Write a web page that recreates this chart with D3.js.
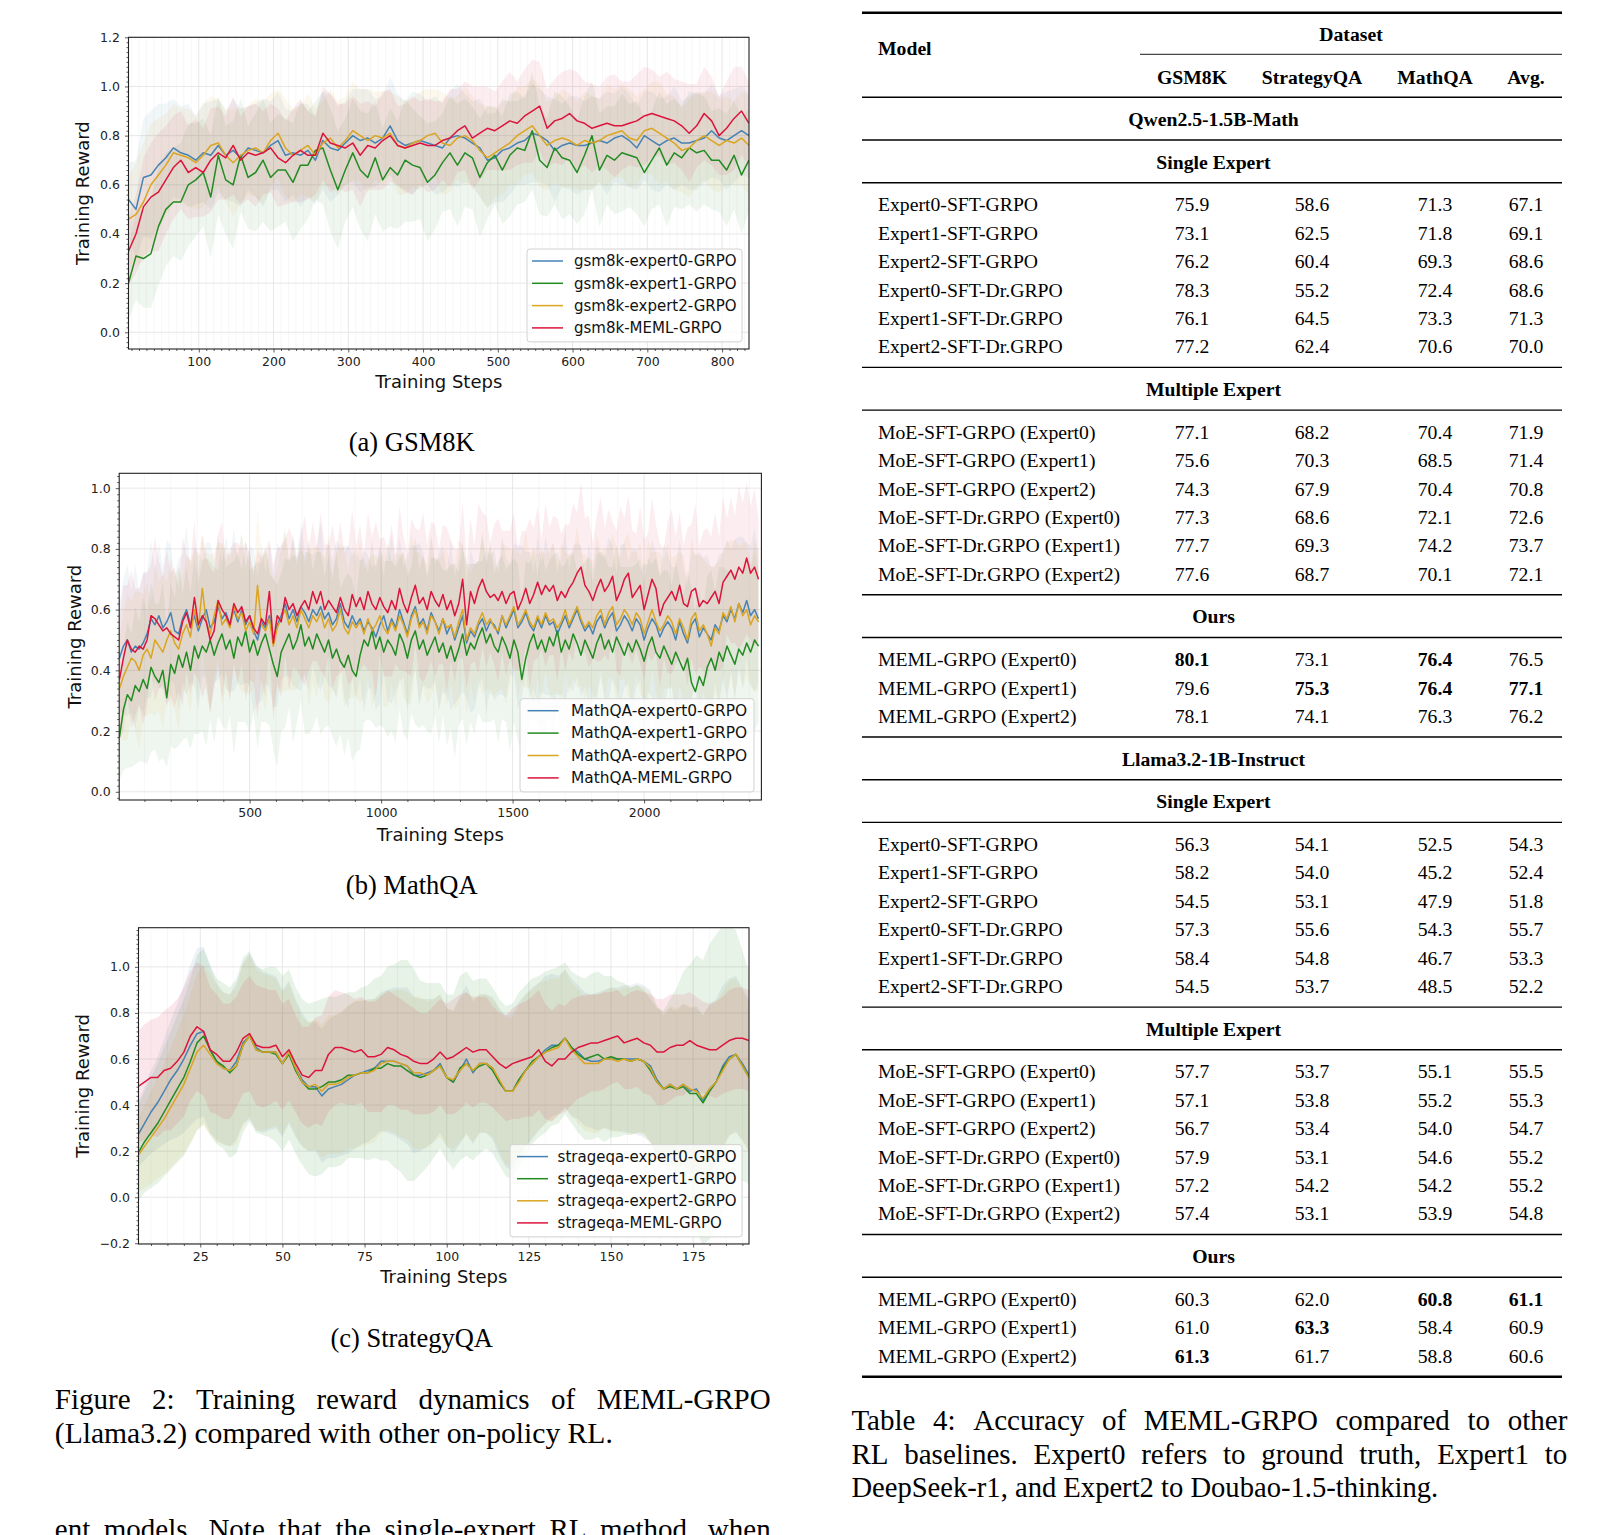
<!DOCTYPE html>
<html><head><meta charset="utf-8"><title>MEML-GRPO training reward</title>
<script src="https://cdn.jsdelivr.net/npm/d3@7/dist/d3.min.js"></script>
<style>html,body{margin:0;padding:0;background:#fff;}svg{display:block;}</style>
</head><body>
<svg id="fig" width="1622" height="1535" xmlns="http://www.w3.org/2000/svg"></svg>
<script>
// ================= DATA (training rewards stored in hundredths) =================
const gsmLabels = ["gsm8k-expert0-GRPO", "gsm8k-expert1-GRPO", "gsm8k-expert2-GRPO", "gsm8k-MEML-GRPO"];
const mathqaLabels = ["MathQA-expert0-GRPO", "MathQA-expert1-GRPO", "MathQA-expert2-GRPO", "MathQA-MEML-GRPO"];
const strategyLabels = ["strageqa-expert0-GRPO", "strageqa-expert1-GRPO", "strageqa-expert2-GRPO", "strageqa-MEML-GRPO"];

const gsmXTicks = [100, 200, 300, 400, 500, 600, 700, 800];
const gsmYTicks = [0, 20, 40, 60, 80, 100, 120];
const mathqaXTicks = [500, 1000, 1500, 2000];
const mathqaYTicks = [0, 20, 40, 60, 80, 100];
const strategyXTicks = [25, 50, 75, 100, 125, 150, 175];
const strategyYTicks = [-20, 0, 20, 40, 60, 80, 100];

// GSM8K: one point every 10 steps from step 6
const gsmStepStart = 6, gsmStepEvery = 10;
const gsmExpert0 = [54,50,63,64,68,71,75,73,72,70, 73,72,76,72,74,71,75,74,73,76, 78,72,73,72,74,70,78,75,74,77, 80,78,79,77,79,84,78,76,77,78, 77,76,75,79,80,79,77,75,70,71, 74,75,77,78,81,80,78,74,76,77, 76,76,77,78,77,79,80,78,75,80, 78,76,78,79,77,77,78,79,82,79, 78,80,82,80];
const gsmExpert1 = [20,31,30,32,43,50,53,53,60,62, 65,55,72,62,60,72,63,65,70,63, 66,66,61,68,68,74,75,66,58,66, 73,66,63,71,62,67,64,70,68,67, 61,64,69,73,68,73,71,63,69,72, 66,72,75,74,82,70,67,75,71,70, 65,72,80,66,72,70,73,72,71,65, 70,75,68,73,71,75,73,74,70,70, 66,72,64,70];
const gsmExpert2 = [46,48,53,60,64,68,73,72,71,69, 72,76,77,72,69,72,74,75,73,78, 81,75,72,74,76,72,77,79,75,78, 82,80,78,80,79,81,76,75,77,78, 80,81,77,76,79,80,78,74,71,73, 75,77,80,82,84,80,76,78,79,78, 76,78,77,78,80,81,82,79,78,82, 83,81,79,77,74,75,78,80,78,76, 78,77,79,76];
const gsmMeml = [33,40,51,55,57,62,67,70,65,67, 65,70,73,71,76,70,73,72,73,75, 71,69,72,74,72,72,81,77,76,75, 77,72,76,75,78,80,76,75,76,77, 76,76,78,79,82,84,79,81,83,82, 84,86,85,88,90,92,83,86,87,89, 86,85,83,84,85,84,84,85,86,88, 89,88,87,86,84,81,84,89,86,80, 83,87,90,85];
const gsmExpert0Std = [15,20,24,26,25,22,20,19,21,18, 20,22,19,18,21,20,17,19,22,18, 20,19,17,21,19,18,20,22,18,17, 19,21,20,18,17,20,19,18,21,19, 17,20,18,19,21,18,17,20,19,18, 21,19,17,18,20,19,18,21,17,19, 20,18,19,17,21,18,20,19,17,18, 20,19,18,21,17,19,20,18,19,17, 20,19,18,17];
const gsmExpert1Std = [15,18,20,22,24,23,22,24,25,23, 22,25,24,22,26,23,21,24,25,22, 23,21,24,26,22,20,23,25,24,21, 22,24,26,23,21,24,22,25,23,21, 24,22,20,23,25,22,21,24,23,20, 22,25,23,21,24,22,20,23,25,22, 21,24,22,23,20,22,24,21,23,22, 20,23,25,22,21,23,24,22,20,21, 23,22,24,21];
const gsmExpert2Std = [18,21,24,25,23,21,20,19,20,19, 21,20,18,19,22,19,18,20,21,19, 18,20,19,18,21,19,17,20,19,18, 20,19,21,18,19,17,20,19,18,20, 19,18,21,19,17,20,18,19,21,18, 19,17,20,18,19,21,18,17,20,19, 18,20,19,17,21,18,19,20,18,17, 19,21,18,19,17,20,19,18,20,19, 18,17,19,20];
const gsmMemlStd = [14,16,20,22,24,22,21,20,19,20, 18,21,19,17,20,18,19,21,17,18, 20,17,19,21,18,16,19,20,17,18, 19,21,18,17,20,19,16,18,20,17, 19,18,16,20,17,18,21,19,17,16, 18,20,17,19,21,18,16,17,19,18, 20,17,18,16,19,21,18,17,19,20, 18,16,19,17,18,20,17,19,18,16, 19,21,18,17];

// MathQA: one point every 15 steps from step 5
const mathqaStepStart = 5, mathqaStepEvery = 15;
const mathqaExpert0 = [44,48,50,46,48,47,49,52,57,55, 58,54,56,59,53,52,57,60,55,58, 53,57,60,54,56,61,57,59,55,60, 56,60,55,58,53,50,56,54,58,50, 55,58,62,57,60,56,61,59,56,60, 58,61,57,59,55,57,62,56,54,58, 55,57,53,56,54,51,55,58,53,57, 54,60,56,52,58,61,55,57,53,59, 56,53,57,52,55,50,54,58,49,53, 51,55,57,53,56,55,52,58,54,57, 60,54,56,59,55,53,57,54,58,55, 56,52,55,58,54,57,60,56,53,55, 52,56,58,54,57,59,53,55,58,56, 53,57,55,50,54,57,55,51,54,56, 54,50,56,52,49,55,57,51,54,52, 50,55,53,58,56,60,57,62,59,63, 58,60,57];
const mathqaExpert1 = [18,27,32,30,35,33,37,34,41,38, 36,40,31,42,39,45,41,46,40,48, 44,48,46,50,45,49,52,47,50,44, 51,48,53,46,50,45,49,52,47,42, 38,46,49,52,47,50,55,48,51,47, 52,49,46,50,44,47,43,41,45,40, 38,45,50,48,53,47,51,46,50,48, 45,52,49,44,50,53,47,50,45,48, 51,46,49,44,48,43,47,52,45,49, 47,51,54,49,52,48,46,51,48,44, 50,46,37,44,49,52,47,50,46,51, 48,53,46,50,47,52,49,45,50,47, 44,49,52,47,50,46,51,48,45,49, 46,50,47,43,48,51,46,44,48,45, 42,46,43,40,44,36,33,38,35,41, 44,40,46,43,48,45,42,47,45,49, 46,50,48];
const mathqaExpert2 = [34,38,41,44,43,40,45,47,44,50, 48,46,50,53,49,47,52,55,51,60, 54,67,56,52,58,63,55,57,54,61, 57,59,53,56,52,68,55,53,57,48, 54,57,60,55,58,54,60,57,54,58, 56,59,54,57,53,55,60,54,52,56, 54,56,52,57,53,55,58,54,52,56, 53,58,55,51,57,60,54,56,52,58, 56,52,57,54,55,51,56,60,50,54, 52,56,59,55,57,54,53,58,55,58, 61,55,57,60,56,54,58,55,59,56, 57,54,56,60,55,58,61,57,54,56, 54,58,60,55,59,61,55,57,60,58, 55,59,57,52,56,60,56,53,55,58, 56,52,57,54,50,57,59,53,55,52, 48,54,52,59,57,61,56,62,58,60, 55,58,56];
const mathqaMeml = [37,44,50,47,46,48,47,50,58,57, 55,53,54,52,51,50,56,59,54,64, 55,58,56,50,53,63,60,58,55,62, 59,61,56,58,54,52,57,55,66,49, 58,56,64,60,62,58,61,63,60,66, 62,66,60,63,61,59,64,60,58,65, 61,64,60,66,62,60,64,61,59,63, 60,67,62,59,64,68,62,64,60,66, 63,61,65,60,63,58,62,70,55,66, 62,67,70,66,64,65,63,66,62,65, 66,60,63,67,62,65,69,65,68,66, 68,63,66,64,67,69,72,74,68,66, 63,67,70,66,68,71,63,66,70,72, 64,66,68,60,65,70,67,58,62,64, 66,63,68,62,61,66,67,61,63,62, 64,66,62,69,71,73,70,74,72,77, 72,74,70];
const mathqaExpert0Std = [18,22,25,20,27,19,23,21,26,18, 24,20,27,22,18,25,21,28,19,23, 26,19,22,28,20,24,18,25,22,27, 20,25,19,23,27,21,26,18,24,22, 27,21,24,19,25,22,28,20,23,18, 22,28,19,24,21,26,18,25,27,20, 25,19,27,22,20,24,26,18,23,28, 21,24,18,26,23,20,27,22,19,25, 19,26,24,20,28,21,23,25,18,27, 24,21,19,27,22,25,20,26,23,18, 22,27,25,20,24,19,28,21,26,23, 26,20,23,28,19,24,22,25,18,27, 21,25,20,23,27,22,19,26,24,20, 27,23,18,25,21,26,24,20,28,22, 20,24,27,22,19,25,21,28,23,26, 24,19,25,21,27,20,26,22,25,19, 23,27,21];
const mathqaExpert1Std = [14,20,24,22,26,23,27,25,28,24, 26,29,23,27,25,30,24,28,26,29, 25,28,31,26,29,24,30,27,25,32, 28,25,30,27,24,31,26,29,25,28, 30,26,28,24,31,27,25,29,32,26, 27,30,25,28,26,32,24,29,27,30, 25,31,27,24,30,26,29,25,32,28, 29,25,30,27,24,31,26,28,25,29, 26,30,24,29,27,32,25,28,30,26, 28,25,31,26,29,24,30,27,25,31, 27,29,25,32,26,28,24,30,27,25, 30,26,28,25,31,27,24,29,26,30, 25,29,27,31,24,28,30,26,29,25, 28,25,30,26,29,24,31,27,25,28, 26,30,27,24,29,31,26,28,25,30, 29,26,28,31,25,27,30,24,28,26, 27,30,25];
const mathqaExpert2Std = [16,21,24,19,23,26,20,22,18,25, 21,26,19,24,22,27,18,23,25,20, 24,18,23,26,21,19,27,22,24,19, 22,26,20,24,18,25,23,27,19,22, 19,24,27,21,25,20,23,18,26,22, 25,20,23,28,19,24,22,26,21,25, 22,27,21,19,25,23,18,26,24,20, 26,20,24,22,28,19,25,21,23,27, 20,25,22,26,19,24,27,21,25,18, 23,19,27,21,25,22,20,24,26,22, 19,24,21,26,22,27,20,25,19,24, 25,21,26,19,23,20,27,22,24,21, 22,27,19,25,21,24,26,20,23,27, 24,20,25,22,27,19,23,26,21,24, 21,26,22,24,20,27,19,25,22,23, 26,21,24,20,25,22,27,19,24,22, 20,25,23];
const mathqaMemlStd = [20,24,18,26,21,19,25,22,17,27, 21,18,26,20,23,17,28,19,22,25, 18,27,21,24,19,22,29,18,25,20, 23,19,26,21,18,28,20,24,17,26, 22,25,19,27,21,18,24,28,20,23, 19,26,22,18,27,21,25,19,23,28, 20,24,18,26,22,29,19,23,21,25, 18,27,22,20,26,19,24,28,21,23, 25,19,23,27,20,22,18,26,21,24, 19,28,22,25,18,23,27,20,24,21, 26,20,23,19,28,22,25,18,27,21, 23,27,19,24,21,26,20,28,22,25, 19,24,27,21,25,18,23,28,20,26, 22,19,26,23,20,27,21,24,18,25, 27,21,24,19,26,22,28,20,23,25, 20,26,22,28,19,24,21,27,23,25, 22,26,20];

// StrategyQA: one point every 2 steps from step 6
const strategyStepStart = 6, strategyStepEvery = 2;
const strategyExpert0 = [27,32,37,41,46,51,55,60,66,71, 72,64,59,56,55,59,67,70,65,63, 63,63,58,63,56,51,48,48,44,47, 48,49,51,53,54,55,56,59,59,59, 58,57,53,53,54,55,58,52,50,55, 60,54,58,58,56,50,46,46,51,55, 58,61,64,66,66,69,65,63,60,59, 59,60,60,60,60,60,60,59,57,51, 47,49,47,49,46,47,42,47,50,57, 61,62,58,53];
const strategyExpert1 = [19,24,28,32,37,42,47,52,59,67, 70,64,59,57,54,57,66,70,64,63, 63,62,58,62,55,50,47,47,48,50, 50,51,53,53,54,54,56,56,58,57, 57,55,53,52,53,55,57,52,50,56, 58,55,57,58,55,50,46,46,51,55, 59,61,63,65,66,69,65,62,60,61, 62,60,61,60,60,59,60,59,55,50, 47,48,47,48,45,45,41,46,50,56, 60,62,57,52];
const strategyExpert2 = [18,22,26,30,34,39,44,49,56,63, 66,62,58,56,55,57,66,70,64,63, 63,63,58,63,56,50,48,49,46,49, 49,50,52,53,54,54,55,58,59,59, 58,57,54,54,53,55,57,52,51,55, 58,55,58,58,56,51,46,46,50,55, 58,61,63,64,65,69,64,61,58,58, 58,60,60,59,60,59,60,59,56,50, 47,49,47,49,47,46,43,47,50,55, 60,62,57,52];
const strategyMeml = [48,50,52,52,55,56,59,63,70,74, 72,64,62,59,59,63,69,71,66,65, 65,66,61,64,58,53,52,55,55,62, 65,65,64,63,64,61,61,62,65,64, 62,61,59,58,58,60,63,60,61,63, 65,63,64,64,61,58,56,58,59,60, 61,64,59,57,60,60,63,65,66,67, 67,68,69,70,67,68,69,67,66,63, 63,65,66,66,68,66,65,64,64,66, 68,69,69,68];
const strategyExpert0Std = [14,16,18,20,23,26,29,32,35,37, 37,36,34,33,33,34,35,36,36,35, 34,33,32,31,30,29,28,28,29,30, 31,31,32,32,31,31,30,30,31,32, 33,34,34,33,32,31,30,30,31,32, 32,31,30,30,31,32,33,34,34,33, 33,32,32,31,30,30,30,29,29,29, 30,30,31,31,32,32,33,33,33,32, 32,33,34,35,36,36,37,37,36,35, 34,34,33,33];
const strategyExpert1Std = [21,22,24,26,28,30,32,34,36,38, 38,37,36,36,37,38,38,37,36,36, 37,38,38,37,36,36,37,38,38,37, 37,37,36,36,37,38,39,40,42,44, 46,48,46,42,40,38,36,36,38,40, 40,39,38,37,36,36,37,38,38,37, 36,35,35,34,34,33,33,34,35,36, 36,36,35,34,33,32,32,31,31,32, 34,38,44,50,56,60,62,64,64,62, 58,54,50,46];
const strategyExpert2Std = [16,18,20,22,24,26,28,30,32,34, 35,35,34,33,33,34,35,35,35,34, 33,32,31,30,29,28,28,28,29,30, 30,31,31,32,32,31,31,30,30,31, 32,32,33,33,32,31,31,30,30,31, 31,31,30,30,30,31,32,32,33,33, 32,32,31,31,30,30,29,29,29,30, 30,30,31,31,31,32,32,32,33,33, 33,34,35,35,36,36,36,36,35,34, 34,33,33,32];
const strategyMemlStd = [24,25,25,26,26,27,27,28,28,28, 28,27,26,25,25,24,24,25,26,26, 25,24,23,22,21,21,22,23,24,25, 25,24,24,23,23,24,24,25,25,24, 24,23,23,22,22,23,23,24,25,25, 24,24,23,23,22,22,23,24,25,25, 26,26,25,24,24,23,23,22,22,21, 21,21,20,20,20,21,21,22,22,23, 23,23,22,22,21,21,20,20,21,21, 22,22,22,22];

// Table 4
const tableColumns = ["GSM8K", "StrategyQA", "MathQA", "Avg."];
const singleModels = ["Expert0-SFT-GRPO", "Expert1-SFT-GRPO", "Expert2-SFT-GRPO", "Expert0-SFT-Dr.GRPO", "Expert1-SFT-Dr.GRPO", "Expert2-SFT-Dr.GRPO"];
const multiModels = ["MoE-SFT-GRPO (Expert0)", "MoE-SFT-GRPO (Expert1)", "MoE-SFT-GRPO (Expert2)", "MoE-SFT-Dr.GRPO (Expert0)", "MoE-SFT-Dr.GRPO (Expert1)", "MoE-SFT-Dr.GRPO (Expert2)"];
const oursModels = ["MEML-GRPO (Expert0)", "MEML-GRPO (Expert1)", "MEML-GRPO (Expert2)"];
const qwenSingle = [[75.9,58.6,71.3,67.1],[73.1,62.5,71.8,69.1],[76.2,60.4,69.3,68.6],[78.3,55.2,72.4,68.6],[76.1,64.5,73.3,71.3],[77.2,62.4,70.6,70.0]];
const qwenMulti = [[77.1,68.2,70.4,71.9],[75.6,70.3,68.5,71.4],[74.3,67.9,70.4,70.8],[77.3,68.6,72.1,72.6],[77.7,69.3,74.2,73.7],[77.6,68.7,70.1,72.1]];
const qwenOurs = [[80.1,73.1,76.4,76.5],[79.6,75.3,76.4,77.1],[78.1,74.1,76.3,76.2]];
const qwenOursBold = [[1,0,1,0],[0,1,1,1],[0,0,0,0]];
const llamaSingle = [[56.3,54.1,52.5,54.3],[58.2,54.0,45.2,52.4],[54.5,53.1,47.9,51.8],[57.3,55.6,54.3,55.7],[58.4,54.8,46.7,53.3],[54.5,53.7,48.5,52.2]];
const llamaMulti = [[57.7,53.7,55.1,55.5],[57.1,53.8,55.2,55.3],[56.7,53.4,54.0,54.7],[57.9,53.1,54.6,55.2],[57.2,54.2,54.2,55.2],[57.4,53.1,53.9,54.8]];
const llamaOurs = [[60.3,62.0,60.8,61.1],[61.0,63.3,58.4,60.9],[61.3,61.7,58.8,60.6]];
const llamaOursBold = [[0,0,1,1],[0,1,0,0],[1,0,0,0]];

// ================= DRAWING =================
const SANS = "'DejaVu Sans', sans-serif";
const SERIF = "'Liberation Serif', 'Times New Roman', serif";
const COLORS = ["#4682b4", "#228b22", "#daa520", "#dc143c"];
const svg = d3.select("#fig");
svg.append("rect").attr("width", 1622).attr("height", 1535).attr("fill", "#fff");
const defs = svg.append("defs");

function rangeStep(a, b, s) { const out = []; for (let v = a; v <= b + 1e-9; v += s) out.push(+v.toFixed(4)); return out; }

function drawChart(cfg, idx) {
  const g = svg.append("g");
  const x = d3.scaleLinear().domain(cfg.xDomain).range([cfg.left, cfg.right]);
  const y = d3.scaleLinear().domain(cfg.yDomain).range([cfg.bottom, cfg.top]);
  const clipId = "clip" + idx;
  defs.append("clipPath").attr("id", clipId).append("rect")
    .attr("x", cfg.left).attr("y", cfg.top).attr("width", cfg.right - cfg.left).attr("height", cfg.bottom - cfg.top);

  const xMinor = rangeStep(cfg.xMinor[0], cfg.xMinor[1], cfg.xMinor[2]).filter(v => v >= cfg.xDomain[0] && v <= cfg.xDomain[1] && !cfg.xTicks.includes(v));
  const yMinor = rangeStep(cfg.yMinor[0], cfg.yMinor[1], cfg.yMinor[2]).filter(v => v >= cfg.yDomain[0] && v <= cfg.yDomain[1] && !cfg.yTicks.includes(v));

  // grids
  g.append("g").selectAll("line").data(xMinor).join("line")
    .attr("x1", d => x(d)).attr("x2", d => x(d)).attr("y1", cfg.top).attr("y2", cfg.bottom)
    .attr("stroke", "#f3f3f3").attr("stroke-width", 0.7);
  g.append("g").selectAll("line").data(cfg.xTicks).join("line")
    .attr("x1", d => x(d)).attr("x2", d => x(d)).attr("y1", cfg.top).attr("y2", cfg.bottom)
    .attr("stroke", "#e4e4e4").attr("stroke-width", 0.9);
  g.append("g").selectAll("line").data(cfg.yTicks).join("line")
    .attr("y1", d => y(d)).attr("y2", d => y(d)).attr("x1", cfg.left).attr("x2", cfg.right)
    .attr("stroke", "#e4e4e4").attr("stroke-width", 0.9);

  const steps = cfg.series[0].mean.map((_, i) => cfg.stepStart + i * cfg.stepEvery);
  const plot = g.append("g").attr("clip-path", `url(#${clipId})`);
  cfg.series.forEach((s, k) => {
    const area = d3.area()
      .x((d, i) => x(steps[i]))
      .y0((d, i) => y(s.mean[i] - s.std[i]))
      .y1((d, i) => y(s.mean[i] + s.std[i]));
    plot.append("path").datum(s.mean).attr("d", area)
      .attr("fill", COLORS[k]).attr("fill-opacity", cfg.bandOpacity);
  });
  cfg.series.forEach((s, k) => {
    const line = d3.line().x((d, i) => x(steps[i])).y(d => y(d));
    plot.append("path").datum(s.mean).attr("d", line)
      .attr("fill", "none").attr("stroke", COLORS[k]).attr("stroke-width", 1.5)
      .attr("stroke-linejoin", "round");
  });

  // axes
  const fmtY = v => (v / 100).toFixed(1).replace("-", "\u2212");
  const xAxis = g.append("g").attr("transform", `translate(0,${cfg.bottom})`)
    .call(d3.axisBottom(x).tickValues(cfg.xTicks).tickSize(3.5).tickPadding(5).tickFormat(d3.format("d")));
  const xAxisMinor = g.append("g").attr("transform", `translate(0,${cfg.bottom})`)
    .call(d3.axisBottom(x).tickValues(xMinor).tickSize(2).tickFormat(""));
  const yAxis = g.append("g").attr("transform", `translate(${cfg.left},0)`)
    .call(d3.axisLeft(y).tickValues(cfg.yTicks).tickSize(3.5).tickPadding(5).tickFormat(fmtY));
  const yAxisMinor = g.append("g").attr("transform", `translate(${cfg.left},0)`)
    .call(d3.axisLeft(y).tickValues(yMinor).tickSize(2).tickFormat(""));
  [xAxis, xAxisMinor, yAxis, yAxisMinor].forEach(a => {
    a.select(".domain").remove();
    a.selectAll("line").attr("stroke", "#333").attr("stroke-width", 0.8);
    a.selectAll("text").style("font-family", SANS).style("font-size", "12.5px").attr("fill", "#222");
  });

  // spines
  g.append("rect").attr("x", cfg.left).attr("y", cfg.top)
    .attr("width", cfg.right - cfg.left).attr("height", cfg.bottom - cfg.top)
    .attr("fill", "none").attr("stroke", "#222").attr("stroke-width", 1.1);

  // axis labels
  g.append("text").attr("x", (cfg.left + cfg.right) / 2).attr("y", cfg.xLabelY)
    .attr("text-anchor", "middle").style("font-family", SANS).style("font-size", "18px").attr("fill", "#111")
    .text("Training Steps");
  g.append("text").attr("transform", `translate(${cfg.yLabelX},${(cfg.top + cfg.bottom) / 2}) rotate(-90)`)
    .attr("text-anchor", "middle").style("font-family", SANS).style("font-size", "18px").attr("fill", "#111")
    .text("Training Reward");

  // legend
  const L = cfg.legend;
  const n = cfg.series.length;
  g.append("rect").attr("x", L.x0).attr("y", L.firstY - 12)
    .attr("width", L.x1 - L.x0).attr("height", (n - 1) * L.pitch + 26)
    .attr("rx", 3).attr("fill", "#fff").attr("fill-opacity", 0.8)
    .attr("stroke", "#d2d2d2").attr("stroke-width", 1);
  cfg.series.forEach((s, k) => {
    const cy = L.firstY + k * L.pitch;
    g.append("line").attr("x1", L.lineX0).attr("x2", L.lineX1).attr("y1", cy).attr("y2", cy)
      .attr("stroke", COLORS[k]).attr("stroke-width", 1.5);
    g.append("text").attr("x", L.textX).attr("y", cy + 5.2)
      .style("font-family", SANS).style("font-size", L.fontSize + "px").attr("fill", "#111").text(s.label);
  });

  // sub caption
  g.append("text").attr("x", 411.7).attr("y", cfg.captionY).attr("text-anchor", "middle")
    .style("font-family", SERIF).style("font-size", "26.5px").attr("fill", "#000").text(cfg.caption);
}

function mkSeries(labels, means, stds) { return labels.map((l, i) => ({ label: l, mean: means[i], std: stds[i] })); }

drawChart({
  left: 128.5, right: 749, top: 37.3, bottom: 349,
  xDomain: [6, 836], yDomain: [-6.8, 120],
  xTicks: gsmXTicks, yTicks: gsmYTicks, xMinor: [10, 830, 10], yMinor: [-6, 120, 2],
  stepStart: gsmStepStart, stepEvery: gsmStepEvery, bandOpacity: 0.075,
  series: mkSeries(gsmLabels, [gsmExpert0, gsmExpert1, gsmExpert2, gsmMeml], [gsmExpert0Std, gsmExpert1Std, gsmExpert2Std, gsmMemlStd]),
  legend: { x0: 527, x1: 742, firstY: 261, pitch: 22.3, lineX0: 532, lineX1: 563, textX: 574, fontSize: 15 },
  xLabelY: 388, yLabelX: 89.3, caption: "(a) GSM8K", captionY: 451
}, 1);

drawChart({
  left: 119.2, right: 761.4, top: 473.3, bottom: 800,
  xDomain: [4, 2446], yDomain: [-2.7, 104.9],
  xTicks: mathqaXTicks, yTicks: mathqaYTicks, xMinor: [100, 2400, 100], yMinor: [-2, 104, 2],
  stepStart: mathqaStepStart, stepEvery: mathqaStepEvery, bandOpacity: 0.075,
  series: mkSeries(mathqaLabels, [mathqaExpert0, mathqaExpert1, mathqaExpert2, mathqaMeml], [mathqaExpert0Std, mathqaExpert1Std, mathqaExpert2Std, mathqaMemlStd]),
  legend: { x0: 520, x1: 754, firstY: 710.7, pitch: 22.4, lineX0: 527.6, lineX1: 558.6, textX: 571, fontSize: 15.4 },
  xLabelY: 841, yLabelX: 81, caption: "(b) MathQA", captionY: 894
}, 2);

drawChart({
  left: 138.5, right: 749, top: 927.7, bottom: 1244,
  xDomain: [6.2, 192], yDomain: [-20.3, 117],
  xTicks: strategyXTicks, yTicks: strategyYTicks, xMinor: [10, 190, 5], yMinor: [-20, 116, 2],
  stepStart: strategyStepStart, stepEvery: strategyStepEvery, bandOpacity: 0.1,
  series: mkSeries(strategyLabels, [strategyExpert0, strategyExpert1, strategyExpert2, strategyMeml], [strategyExpert0Std, strategyExpert1Std, strategyExpert2Std, strategyMemlStd]),
  legend: { x0: 510, x1: 742, firstY: 1156.6, pitch: 22.1, lineX0: 517, lineX1: 548, textX: 557.6, fontSize: 15 },
  xLabelY: 1283, yLabelX: 89.3, caption: "(c) StrategyQA", captionY: 1347
}, 3);

// ----- justified caption lines -----
function textLine(str, x0, x1, baseline, size, justify) {
  const g = svg.append("g").style("font-family", SERIF).style("font-size", size + "px").attr("fill", "#000");
  if (!justify) { g.append("text").attr("x", x0).attr("y", baseline).text(str); return; }
  const words = str.split(" ");
  const nodes = words.map(w => g.append("text").attr("y", baseline).text(w));
  const widths = nodes.map(nd => nd.node().getComputedTextLength());
  const gap = (x1 - x0 - d3.sum(widths)) / (words.length - 1);
  let cx = x0;
  nodes.forEach((nd, i) => { nd.attr("x", cx); cx += widths[i] + gap; });
}
textLine("Figure 2: Training reward dynamics of MEML-GRPO", 54.8, 770.7, 1408.6, 29, true);
textLine("(Llama3.2) compared with other on-policy RL.", 54.8, 770.7, 1442.8, 29.6, false);
textLine("ent models. Note that the single-expert RL method, when", 54.8, 770.7, 1539, 29, true);
textLine("Table 4: Accuracy of MEML-GRPO compared to other", 851.4, 1567.3, 1430.4, 29, true);
textLine("RL baselines. Expert0 refers to ground truth, Expert1 to", 851.4, 1567.3, 1463.5, 29, true);
textLine("DeepSeek-r1, and Expert2 to Doubao-1.5-thinking.", 851.4, 1567.3, 1496.6, 28.6, false);

// ----- table -----
(function drawTable() {
  const T = svg.append("g").style("font-family", SERIF).style("font-size", "19.7px").attr("fill", "#000");
  const L = 862, R = 1562, modelX = 878, colX = [1192, 1312, 1435, 1526], centerX = 1213.5;
  const base = 6.7;
  const rule = (yy, w, x0 = L, x1 = R) => T.append("line").attr("x1", x0).attr("x2", x1).attr("y1", yy).attr("y2", yy).attr("stroke", "#000").attr("stroke-width", w);
  rule(12.7, 2.4);
  T.append("text").attr("x", modelX).attr("y", 48.5 + base).attr("font-weight", "bold").text("Model");
  T.append("text").attr("x", 1351).attr("y", 34.5 + base).attr("text-anchor", "middle").attr("font-weight", "bold").text("Dataset");
  rule(54.3, 0.9, 1140, R);
  tableColumns.forEach((c, i) => T.append("text").attr("x", colX[i]).attr("y", 76.8 + base).attr("text-anchor", "middle").attr("font-weight", "bold").text(c));
  let yy = 97.3;
  rule(yy, 1.4);
  const toText = 21.9, toRule = 20.8, pitch = 28.4;
  const sections = [
    { title: "Qwen2.5-1.5B-Math", groups: [
      { title: "Single Expert", models: singleModels, vals: qwenSingle, bold: null },
      { title: "Multiple Expert", models: multiModels, vals: qwenMulti, bold: null },
      { title: "Ours", models: oursModels, vals: qwenOurs, bold: qwenOursBold }] },
    { title: "Llama3.2-1B-Instruct", groups: [
      { title: "Single Expert", models: singleModels, vals: llamaSingle, bold: null },
      { title: "Multiple Expert", models: multiModels, vals: llamaMulti, bold: null },
      { title: "Ours", models: oursModels, vals: llamaOurs, bold: llamaOursBold }] }
  ];
  const header = (t) => {
    yy += toText;
    T.append("text").attr("x", centerX).attr("y", yy + base).attr("text-anchor", "middle").attr("font-weight", "bold").text(t);
    yy += toRule; rule(yy, 1.4);
  };
  sections.forEach((sec, si) => {
    header(sec.title);
    sec.groups.forEach((grp, gi) => {
      header(grp.title);
      yy += toText;
      grp.models.forEach((m, r) => {
        if (r > 0) yy += pitch;
        T.append("text").attr("x", modelX).attr("y", yy + base).text(m);
        grp.vals[r].forEach((v, c) => {
          T.append("text").attr("x", colX[c]).attr("y", yy + base).attr("text-anchor", "middle")
            .attr("font-weight", grp.bold && grp.bold[r][c] ? "bold" : "normal").text(v.toFixed(1));
        });
      });
      yy += toRule;
      const last = si === sections.length - 1 && gi === sec.groups.length - 1;
      rule(yy, last ? 2.4 : 1.4);
    });
  });
})();
</script>
</body></html>
